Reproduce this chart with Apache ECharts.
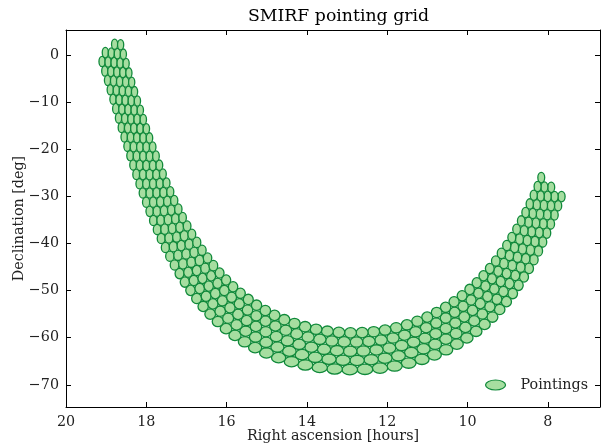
<!DOCTYPE html>
<html><head><meta charset="utf-8">
<script src="https://cdn.jsdelivr.net/npm/echarts@6/dist/echarts.min.js"></script>
<style>html,body{margin:0;padding:0;background:#fff}#c{width:602px;height:445px}</style>
</head><body><div id="c"></div>
<script>
// Pointing grid: hexagonal grid in Galactic coordinates (rows of constant latitude)
const rowLatitudes = [-3.9, -1.95, 0, 1.95, 3.9];               // deg
const rowLonStart  = [-115.125, -114, -115.125, -114, -115.125]; // deg
const rowLonEnd    = [35, 35, 35, 35, 35];                       // deg
const lonStep = 2.25;                                            // deg
const beamWidthDeg = 2.3;   // true angular width (E-W)
const beamHeightDeg = 2.2;  // N-S
const xTickLabels = [8, 10, 12, 14, 16, 18, 20];
const yTickLabels = [0, -10, -20, -30, -40, -50, -60, -70];

const D2R = Math.PI / 180;
const aG = 192.85948, dG = 27.12825, lNCP = 122.93192;
function galToEq(l, b) {
  const lr = (lNCP - l) * D2R, br = b * D2R, dg = dG * D2R;
  const sd = Math.sin(br) * Math.sin(dg) + Math.cos(br) * Math.cos(dg) * Math.cos(lr);
  const dec = Math.asin(sd);
  const y = Math.cos(br) * Math.sin(lr);
  const x = Math.sin(br) * Math.cos(dg) - Math.cos(br) * Math.sin(dg) * Math.cos(lr);
  let ra = aG + Math.atan2(y, x) / D2R;
  ra = ((ra % 360) + 360) % 360;
  return [ra / 15, dec / D2R];
}
const pointings = [];
rowLatitudes.forEach((b, i) => {
  for (let l = rowLonStart[i]; l <= rowLonEnd[i] + 1e-9; l += lonStep) {
    pointings.push(galToEq(l, b));
  }
});

const FILL = '#a6dea0', EDGE = '#10893a';
const font = 'DejaVu Serif';
const FS = 14.3;
const chart = echarts.init(document.getElementById('c'), null, {renderer: 'canvas'});
function axisCommon(ticks) {
  return {
    axisLine: {show: true, onZero: false, lineStyle: {color: '#000', width: 1}},
    axisTick: {show: true, inside: true, length: 5, customValues: ticks, lineStyle: {color: '#000', width: 1}},
    splitLine: {show: false}
  };
}
const minus = v => String(v).replace('-', '\u2212');
chart.setOption({
  animation: false,
  backgroundColor: '#fff',
  title: {text: 'SMIRF pointing grid', left: 243, top: 3,
    textStyle: {fontFamily: font, fontWeight: 'normal', fontSize: 17.3, color: '#000'}},
  grid: {left: 66, right: 2, top: 30, bottom: 38, containLabel: false, outerBoundsMode: 'none'},
  legend: {
    right: 9, bottom: 48, itemWidth: 28, itemHeight: 10, itemGap: 5,
    textStyle: {fontFamily: font, fontSize: FS, color: '#222', padding: [0, 0, 0, 6]},
    data: [{name: 'Pointings', icon: 'path://M0,10 A20,10 0 1,1 40,10 A20,10 0 1,1 0,10 Z',
      itemStyle: {color: FILL, borderColor: EDGE, borderWidth: 1.2}}]
  },
  xAxis: [
    Object.assign({type: 'value', position: 'bottom', inverse: true, min: 6.7, max: 20,
      name: 'Right ascension [hours]', nameLocation: 'middle', nameGap: 22, nameMoveOverlap: false,
      nameTextStyle: {fontFamily: font, fontSize: FS, color: '#222'},
      axisLabel: {fontFamily: font, fontSize: FS, color: '#222', margin: 8, customValues: xTickLabels,
        formatter: v => minus(v)}}, axisCommon(xTickLabels)),
    Object.assign({type: 'value', position: 'top', inverse: true, min: 6.7, max: 20,
      axisLabel: {show: false}}, axisCommon(xTickLabels))
  ],
  yAxis: [
    Object.assign({type: 'value', position: 'left', min: -74.7, max: 5.3,
      name: 'Declination [deg]', nameLocation: 'middle', nameGap: 40, nameRotate: 90, nameMoveOverlap: false,
      nameTextStyle: {fontFamily: font, fontSize: FS, color: '#222'},
      axisLabel: {fontFamily: font, fontSize: FS, color: '#222', margin: 7, customValues: yTickLabels,
        formatter: v => minus(v)}}, axisCommon(yTickLabels)),
    Object.assign({type: 'value', position: 'right', min: -74.7, max: 5.3,
      axisLabel: {show: false}}, axisCommon(yTickLabels))
  ],
  series: [{
    name: 'Pointings', type: 'custom', xAxisIndex: 0, yAxisIndex: 0,
    data: pointings, clip: true,
    itemStyle: {color: FILL, borderColor: EDGE},
    encode: {x: 0, y: 1},
    renderItem: function (params, api) {
      const ra = api.value(0), dec = api.value(1);
      const c = api.coord([ra, dec]);
      const wH = beamWidthDeg / Math.cos(dec * D2R) / 15;
      const sz = api.size([wH, beamHeightDeg]);
      return {type: 'ellipse', shape: {cx: c[0], cy: c[1], rx: sz[0] / 2, ry: sz[1] / 2},
        style: {fill: FILL, stroke: EDGE, lineWidth: 1.3}};
    }
  }]
});
</script></body></html>
